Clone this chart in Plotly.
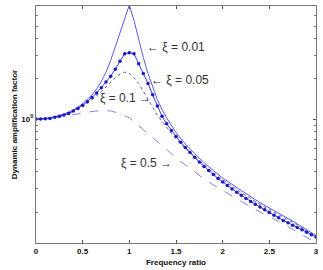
import math
import plotly.graph_objects as go

# xi = 0.05 (dots every 0.05)
r05 = [round(i * 0.05, 2) for i in range(61)]
v05 = [1.0, 1.0, 1.005, 1.01, 1.03, 1.05, 1.07, 1.1, 1.15, 1.2,
       1.27, 1.35, 1.45, 1.57, 1.72, 1.9, 2.1, 2.37, 2.72, 3.1,
       3.15, 3.1, 2.6, 2.2, 1.85, 1.52, 1.25, 1.05, 0.92, 0.82,
       0.74, 0.67, 0.61, 0.56, 0.515, 0.475, 0.44, 0.41, 0.383, 0.358,
       0.336, 0.316, 0.298, 0.282, 0.267, 0.253, 0.24, 0.229, 0.218, 0.208,
       0.198, 0.189, 0.181, 0.173, 0.166, 0.159, 0.153, 0.147, 0.141, 0.135,
       0.13]

# xi = 0.01 (solid)
r01 = [0, 0.1, 0.2, 0.3, 0.4, 0.5, 0.6, 0.65, 0.7, 0.75, 0.8, 0.85, 0.9, 0.95, 1.0,
       1.05, 1.1, 1.15, 1.2, 1.25, 1.3, 1.35, 1.4, 1.5, 1.6, 1.7, 1.8, 1.9, 2.0,
       2.2, 2.4, 2.6, 2.8, 3.0]
v01 = [1.0, 1.01, 1.04, 1.09, 1.17, 1.3, 1.52, 1.68, 1.92, 2.25, 2.75, 3.5, 4.5, 5.7, 7.2,
       5.5, 3.95, 2.9, 2.2, 1.72, 1.4, 1.18, 1.02, 0.79, 0.65, 0.55, 0.47, 0.41, 0.36,
       0.29, 0.235, 0.196, 0.163, 0.133]

# xi = 0.1 (dotted)
r10 = [0, 0.1, 0.2, 0.3, 0.4, 0.5, 0.6, 0.7, 0.75, 0.8, 0.85, 0.9, 0.95, 1.0,
       1.05, 1.1, 1.15, 1.2, 1.25, 1.3, 1.35, 1.4, 1.5, 1.6, 1.7, 1.8, 1.9, 2.0,
       2.2, 2.4, 2.6, 2.8, 3.0]
v10 = [1.0, 1.005, 1.03, 1.07, 1.14, 1.24, 1.4, 1.6, 1.74, 1.9, 2.05, 2.18, 2.25, 2.2,
       2.05, 1.85, 1.62, 1.42, 1.22, 1.07, 0.96, 0.87, 0.71, 0.6, 0.52, 0.45, 0.395, 0.35,
       0.28, 0.228, 0.19, 0.16, 0.128]

# xi = 0.5 (dashed)
r50 = [0, 0.1, 0.2, 0.3, 0.4, 0.5, 0.6, 0.7, 0.8, 0.9, 1.0, 1.1, 1.2, 1.3, 1.4, 1.5,
       1.6, 1.7, 1.8, 1.9, 2.0, 2.2, 2.4, 2.6, 2.8, 3.0]
v50 = [1.0, 1.0, 1.02, 1.05, 1.08, 1.11, 1.14, 1.155, 1.15, 1.1, 1.02, 0.89, 0.78, 0.68,
       0.59, 0.51, 0.45, 0.4, 0.355, 0.32, 0.29, 0.24, 0.2, 0.17, 0.142, 0.117]

xticks = [0, 0.5, 1, 1.5, 2, 2.5, 3]
xticklabels = ["0", "0.5", "1", "1.5", "2", "2.5", "3"]
minor_y = [0.2, 0.3, 0.4, 0.5, 0.6, 0.7, 0.8, 0.9, 2, 3, 4, 5, 6, 7]

labels = ["← ξ = 0.01", "← ξ = 0.05", "ξ = 0.1 →", "ξ = 0.5 →"]
label_x = [1.17, 1.21, 0.66, 0.89]
label_y = [3.48, 1.95, 1.45, 0.47]

fig = go.Figure()
fig.add_trace(go.Scatter(x=r01, y=v01, mode="lines",
                         line=dict(color="#5a5ae0", width=1)))
fig.add_trace(go.Scatter(x=r10, y=v10, mode="lines",
                         line=dict(color="#5a5ae0", width=1, dash="dot")))
fig.add_trace(go.Scatter(x=r50, y=v50, mode="lines",
                         line=dict(color="#8484e4", width=1, dash="dash")))
fig.add_trace(go.Scatter(x=r05, y=v05, mode="lines+markers",
                         line=dict(color="#3a3ad8", width=1),
                         marker=dict(color="#1818c8", size=3.5)))

afont = dict(family="Liberation Sans, Arial, sans-serif", size=12, color="#333333")
for t, ax_, ay_ in zip(labels, label_x, label_y):
    fig.add_annotation(x=ax_, y=math.log10(ay_), text=t, showarrow=False,
                       xanchor="left", yanchor="middle", font=afont,
                       xref="x", yref="y")

fig.update_layout(
    width=323, height=270,
    margin=dict(l=36, r=4, t=6, b=27),
    paper_bgcolor="white", plot_bgcolor="white",
    showlegend=False,
    font=dict(family="Liberation Sans, Arial, sans-serif", color="#111111"),
)
fig.update_xaxes(
    range=[0, 3], tickvals=xticks, ticktext=xticklabels,
    ticks="inside", ticklen=3, tickcolor="#555555",
    showline=True, linecolor="#777777", linewidth=1, mirror="allticks",
    showgrid=False, zeroline=False,
    tickfont=dict(size=8, family="Liberation Sans, Arial", color="#111111", weight="bold"),
    title=dict(text="<b>Frequency ratio</b>", font=dict(size=8), standoff=4),
)
fig.update_yaxes(
    type="log", range=[math.log10(0.117), math.log10(7.07)],
    tickvals=[1], ticktext=["<b>10<sup>0</sup></b>"],
    ticks="inside", ticklen=3, tickcolor="#555555",
    minor=dict(tickvals=minor_y, ticks="inside", ticklen=2, tickcolor="#777777", showgrid=False),
    showline=True, linecolor="#777777", linewidth=1, mirror="allticks",
    showgrid=False, zeroline=False,
    tickfont=dict(size=8, family="Liberation Sans, Arial", color="#111111"),
    title=dict(text="<b>Dynamic amplification factor</b>", font=dict(size=8), standoff=2),
)
fig.write_html("out.html")
